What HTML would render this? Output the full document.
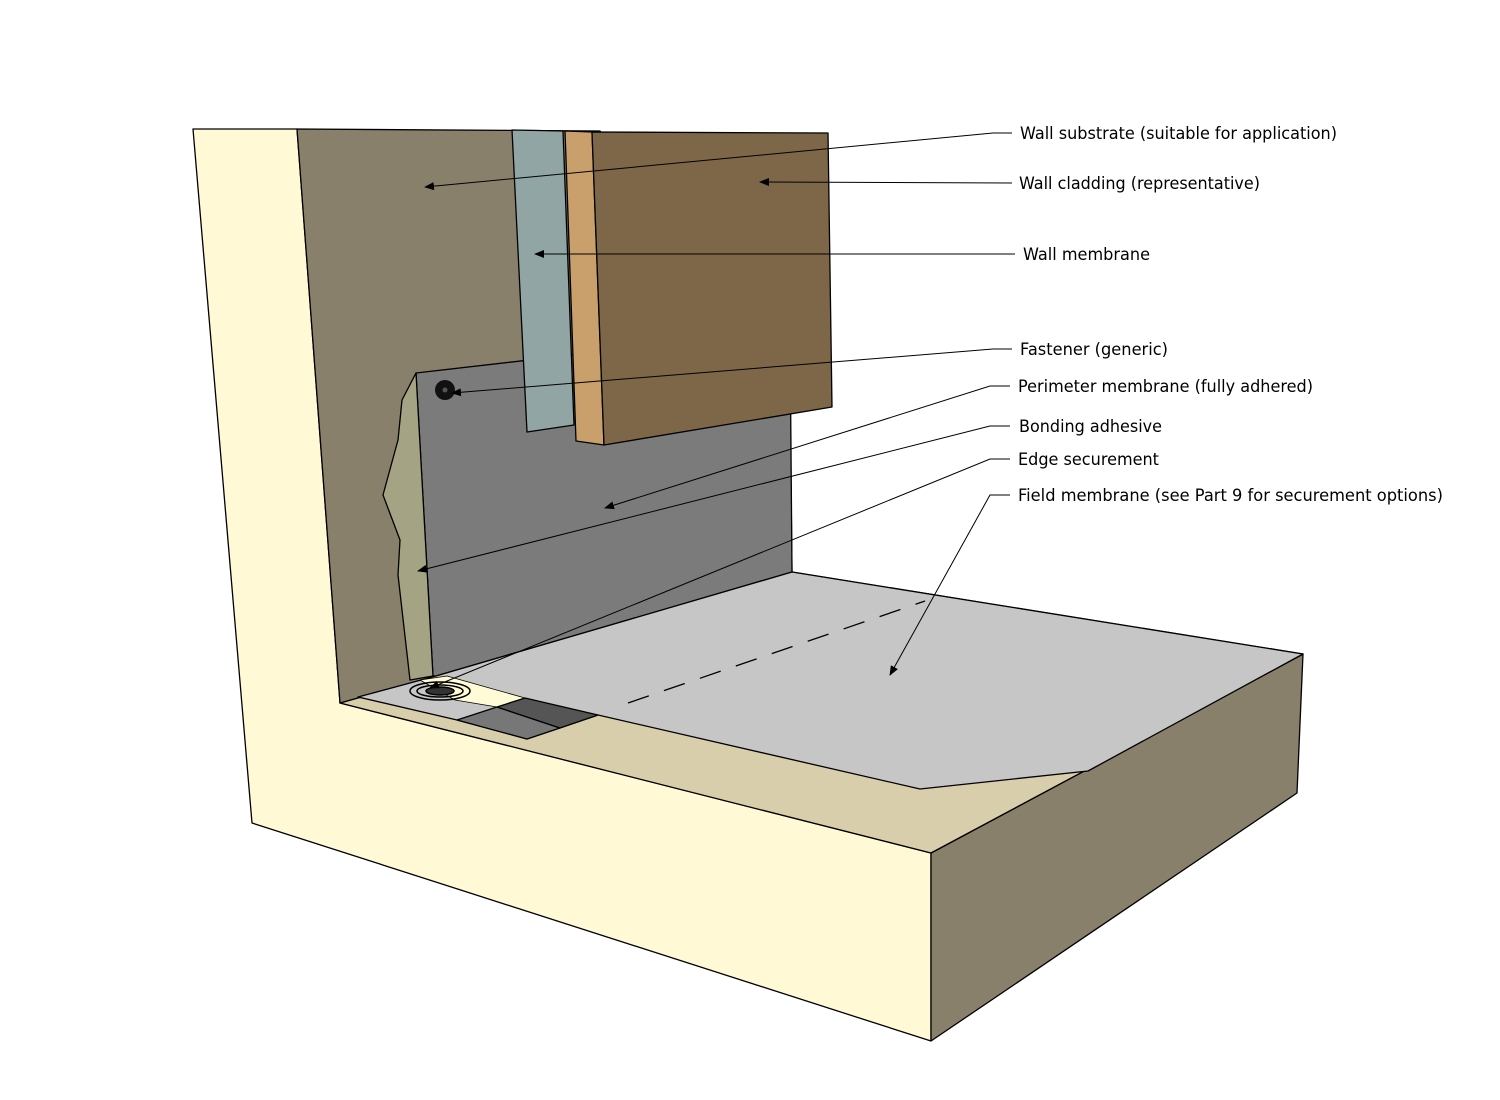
<!DOCTYPE html>
<html><head><style>html,body{margin:0;padding:0;background:#fff}svg{display:block}</style></head>
<body>
<svg width="1500" height="1100" viewBox="0 0 1500 1100" xmlns="http://www.w3.org/2000/svg">
<defs>
<marker id="ah" markerWidth="10" markerHeight="8" refX="9" refY="4" orient="auto" markerUnits="userSpaceOnUse">
<path d="M0,0 L10,4 L0,8 Z" fill="#000"/>
</marker>
</defs>
<g stroke="#000" stroke-width="1.3" stroke-linejoin="round">
<polygon points="193,129 297,129 340,703 931,853 931,1041 252,823" fill="#fff9d6"/>
<polygon points="931,853 1303,654 1297,793 931,1041" fill="#89806c"/>
<polygon points="340,703 436,676 792,572 1303,654 931,853" fill="#d8ceac"/>
<polygon points="297,129 600,131 790,400 792,572 436,676 340,703" fill="#89806c"/>
<polygon points="416,373 790,330 792,572 436,676 433,676" fill="#7b7b7b"/>
<polygon points="416,373 402,400 398,440 383,495 400,540 398,575 410,680 433,676" fill="#a4a383"/>
<polygon points="358,697 436,676 792,572 1303,654 1088,771 920,789 598,715 527,739 457,720" fill="#c6c6c6"/>
<polygon points="420,680 447,676 525,698 497,707 455,700" fill="#fffbd6" stroke-width="0.8"/>
<polygon points="457,720 497,707 560,728 527,739" fill="#777"/>
<polygon points="497,707 525,698 598,715 560,728" fill="#555"/>
<polygon points="512,130 563,131 574,425 527,432" fill="#91a5a5"/>
<polygon points="565,131 592,132 604,445 576,441" fill="#c9a06c"/>
<polygon points="592,132 828,133 832,407 604,445" fill="#7e6649"/>
</g>
<line x1="628" y1="703" x2="925" y2="601" stroke="#000" stroke-width="1.3" stroke-dasharray="22,16"/>
<circle cx="445" cy="390" r="10" fill="#111"/>
<circle cx="445" cy="390" r="2.5" fill="#555"/>
<g fill="none" stroke="#000" stroke-width="1.5">
<ellipse cx="440" cy="691" rx="30" ry="9"/>
<ellipse cx="440" cy="691" rx="23" ry="6"/>
<ellipse cx="440" cy="691" rx="14" ry="4" fill="#333"/>
</g>
<g stroke="#000" stroke-width="1" fill="none">
<polyline points="1012,133 993,133 425,187" marker-end="url(#ah)"/>
<polyline points="1012,183 760,182" marker-end="url(#ah)"/>
<polyline points="1015,254 535,254" marker-end="url(#ah)"/>
<polyline points="1012,349 993,349 452,393" marker-end="url(#ah)"/>
<polyline points="1010,386 990,386 605,508" marker-end="url(#ah)"/>
<polyline points="1010,426 990,426 418,571" marker-end="url(#ah)"/>
<polyline points="1010,459 990,459 430,688" marker-end="url(#ah)"/>
<polyline points="1010,495 990,495 890,675" marker-end="url(#ah)"/>
</g>
<g font-family="DejaVu Sans, Liberation Sans, sans-serif" font-size="17" fill="#000">
<text x="1020" y="139" textLength="317" lengthAdjust="spacingAndGlyphs">Wall substrate (suitable for application)</text>
<text x="1019" y="189" textLength="241" lengthAdjust="spacingAndGlyphs">Wall cladding (representative)</text>
<text x="1023" y="260" textLength="127" lengthAdjust="spacingAndGlyphs">Wall membrane</text>
<text x="1020" y="355" textLength="148" lengthAdjust="spacingAndGlyphs">Fastener (generic)</text>
<text x="1018" y="392" textLength="295" lengthAdjust="spacingAndGlyphs">Perimeter membrane (fully adhered)</text>
<text x="1019" y="432" textLength="143" lengthAdjust="spacingAndGlyphs">Bonding adhesive</text>
<text x="1018" y="465" textLength="141" lengthAdjust="spacingAndGlyphs">Edge securement</text>
<text x="1018" y="501" textLength="425" lengthAdjust="spacingAndGlyphs">Field membrane (see Part 9 for securement options)</text>
</g>
</svg>
</body></html>
